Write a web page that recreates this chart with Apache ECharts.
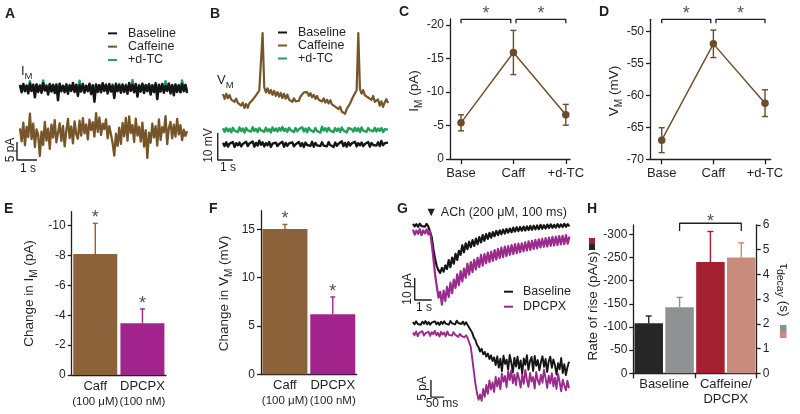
<!DOCTYPE html>
<html><head><meta charset="utf-8">
<script src="https://cdn.jsdelivr.net/npm/echarts@6.0.0/dist/echarts.min.js"></script>
<style>html,body{margin:0;padding:0;background:#fff}#c{width:800px;height:414px}</style>
</head><body><div id="c"></div>
<script>
// ---------------- DATA ----------------
// A: membrane current traces (pA), sampled every A_dt s
const A_dt = 0.0827;
const A_base = [0.8,-1.2,1.1,-0.9,0.6,-1.5,1.2,-0.8,0.9,-2.6,1.0,-1.1,0.7,-1.3,1.3,-0.7,0.5,-1.8,1.1,-1.0,0.9,-1.4,0.8,-3.4,1.2,-0.9,0.6,-1.2,1.0,-1.6,0.7,-0.8,1.4,-1.1,0.9,-2.2,0.8,-1.0,1.1,-1.3,0.6,-0.9,1.2,-1.7,0.7,-3.8,1.0,-1.1,0.8,-1.2,1.3,-0.8,0.9,-1.5,1.1,-1.0,0.6,-2.8,1.2,-0.9,0.8,-1.3,1.0,-1.1,0.7,-1.6,1.4,-0.8,0.9,-1.2,1.1,-2.4,0.6,-1.0,1.2,-1.4,0.8,-0.9,1.0,-1.8,0.7,-1.1,1.3,-3.1,0.9,-1.0,1.1,-1.3,0.6,-0.8,1.2,-1.5,0.8,-2.0,1.0,-1.1,0.7,-1.2,1.1,-0.9,0.8,-1.4];
const A_dtc = [0.9,-0.8,1.0,-0.6,0.7,-1.0,1.9,-0.7,0.8,-1.2,0.9,-0.5,0.6,-0.9,2.1,-0.6,0.8,-1.1,1.0,-0.8,0.7,-0.7,1.1,-1.3,0.9,-0.6,0.6,-0.9,1.0,-1.0,0.8,-0.5,0.9,-0.8,0.7,-1.2,2.0,-0.7,0.9,-0.9,0.6,-0.6,1.0,-1.1,0.8,-0.8,0.9,-0.7,0.7,-1.0,1.2,-0.6,0.9,-0.9,0.6,-0.8,1.0,-1.2,0.8,-0.5,1.1,-0.9,0.7,-0.7,0.9,-1.0,0.8,-0.6,2.2,-0.8,0.6,-1.1,0.9,-0.7,1.0,-0.9,0.7,-0.6,1.1,-1.0,0.8,-0.8,0.9,-1.2,0.6,-0.7,1.0,-0.9,1.9,-0.6,1.2,-1.0,0.7,-0.8,0.9,-0.7,0.8,-1.1,2.1,-0.6,0.9,-0.9];
const A_caff = [-11.2,-14.8,-9.6,-15.9,-10.8,-13.6,-7.1,-14.2,-9.9,-16.4,-11.5,-13.0,
 -18.9,-12.1,-15.8,-9.4,-14.6,-11.3,-16.9,-10.2,-13.8,-8.9,-15.1,-12.4,
 -9.8,-14.7,-10.5,-16.2,-11.9,-8.6,-13.9,-10.7,-15.4,-9.3,-12.8,-14.1,
 -9.1,-13.2,-8.4,-12.6,-10.1,-14.3,-8.8,-11.7,-9.5,-13.5,-7.0,-12.2,
 -8.2,-13.1,-9.9,-11.4,-8.7,-14.0,-10.6,-12.9,-15.3,-18.8,-12.7,-16.1,
 -11.0,-15.5,-9.7,-13.4,-8.3,-14.6,-7.9,-12.5,-10.3,-15.0,-8.5,-13.2,
 -10.8,-14.9,-9.6,-16.3,-11.7,-19.4,-12.4,-15.2,-9.9,-13.7,-10.6,-16.0,
 -8.7,-14.4,-10.9,-12.3,-7.8,-15.6,-11.1,-9.4,-14.0,-10.2,-13.5,-8.6,
 -12.9,-10.3,-14.5,-11.6,-13.3,-12.0];
// B: membrane potential traces (mV), sampled every B_dt s
const B_dt = 0.11;
const B_caff = [-48.3,-50.1,-48.2,-49.9,-48.7,-50.4,
 -49.7,-51.2,-50.0,-51.6,-50.9,-52.6,-51.5,
 -53.5,-52.0,-53.4,-51.7,-52.0,-50.4,
 -50.9,-48.8,-49.1,-47.0,-46.6,
 -25.7,
 -45.8,-47.7,-46.2,-48.1,-46.8,-48.6,
 -47.1,-49.0,-47.6,-49.3,-47.9,-49.8,-48.2,-50.0,-48.5,-50.4,
 -50.1,-51.2,-49.9,-51.0,-50.3,-50.8,-49.2,-49.5,-47.7,-48.3,
 -47.6,-49.0,-48.0,-49.5,-48.6,-50.1,-49.0,-50.4,
 -49.8,-51.1,-49.9,-51.5,-50.4,-51.8,-50.6,-52.1,
 -51.5,-53.0,-52.3,-53.9,-53.0,-54.8,-54.1,-55.6,-53.8,
 -53.9,-51.8,-51.4,-49.1,-48.7,-46.9,
 -25.7,
 -46.5,-48.2,-46.9,-48.8,-48.4,-49.6,-48.9,
 -50.5,-49.0,-51.2,-51.0,-50.3,-52.6,-51.0,-53.1,-51.4,-50.2,-51.7];
const B_dtc = [-61.0,-62.3,-60.9,-62.1,-61.2,-62.5,-60.8,-61.9,-61.3,-62.4,-60.7,-62.0,-61.1,-62.6,-60.9,-61.8,-61.4,-62.2,-60.6,-62.0,-61.2,-62.4,-60.9,-61.7,-61.0,-62.3,-60.8,-62.1,-61.3,-62.5,-60.7,-61.9,-61.1,-62.2,-60.9,-61.8,-60.5,-62.0,-61.2,-62.3,-60.8,-61.6,-61.0,-62.4,-60.9,-62.1,-61.3,-61.9,-60.6,-62.2,-61.1,-62.5,-60.8,-61.7,-61.2,-62.3,-60.9,-62.0,-61.4,-62.6,-60.4,-61.8,-61.0,-62.2,-60.8,-61.9,-61.3,-62.4,-60.9,-62.0,-61.1,-62.3,-60.7,-61.8,-61.2,-62.5,-60.9,-61.6,-61.3,-62.2,-60.8,-62.0,-61.0,-62.4,-60.7,-61.9,-61.2,-62.3,-60.9,-61.7,-61.4,-62.1,-60.8,-62.2,-61.1,-61.9,-60.9,-62.4,-61.3,-62.0,-61.5];
const B_base = [-66.4,-67.6,-66.2,-67.8,-66.7,-67.4,-66.1,-67.9,-66.5,-67.3,-66.3,-67.7,-66.8,-67.5,-66.0,-67.6,-66.6,-67.2,-65.9,-67.8,-66.4,-67.4,-65.6,-67.1,-66.2,-67.7,-66.5,-67.3,-66.1,-67.9,-66.7,-67.4,-66.3,-67.6,-66.8,-67.2,-66.0,-67.8,-66.4,-67.5,-66.6,-67.3,-66.2,-67.7,-66.9,-67.4,-66.1,-67.6,-66.5,-67.9,-66.3,-67.2,-66.7,-67.5,-66.0,-67.8,-66.4,-67.3,-66.6,-67.6,-66.2,-67.4,-66.8,-67.7,-66.1,-67.2,-66.5,-67.9,-66.3,-67.5,-66.7,-67.3,-65.8,-67.6,-66.4,-67.8,-66.2,-67.4,-66.6,-67.2,-66.0,-67.7,-66.5,-67.3,-66.3,-67.6,-66.8,-67.5,-66.1,-67.8,-66.4,-67.2,-66.7,-67.4,-66.2,-67.6,-65.7,-67.3,-66.5,-66.9,-66.3];
// C, D: mean ± SEM
const C_cats = ['Base','Caff','+d-TC'];
const C_vals = [-5.4,-15.9,-6.6];
const C_err = [1.2,3.3,1.55];
const C_ticks = [-20,-15,-10,-5,0];
const D_vals = [-67.0,-51.9,-61.2];
const D_err = [1.95,2.15,2.1];
const D_ticks = [-70,-65,-60,-55,-50];
// E, F
const E_cats = ['Caff','DPCPX'];
const E_conc = ['(100 \u03bcM)','(100 nM)'];
const E_vals = [-8.1,-3.46];
const E_err = [2.05,0.96];
const E_ticks = [-10,-8,-6,-4,-2,0];
const F_vals = [15.03,6.2];
const F_err = [0.47,1.8];
const F_ticks = [0,5,10,15];
// G: ACh-evoked currents (pA); top sampled every G1_dt s, bottom every G2_dt ms
const G1_dt = 0.1;
const G1_base = [0.5,-0.6,0.4,-0.8,0.6,-0.5,0.3,-0.7,0.5,-0.6,0.2,
 -5.5,-11.0,-15.5,-18.8,-20.6,-21.8,
 -19.5,-21.2,-18.4,-20.0,
 -16.0,-19.2,-14.8,-17.6,-13.1,-15.9,-11.7,-13.6,
 -9.2,-12.4,-8.3,-11.0,-7.6,-10.1,-6.9,-9.5,-6.2,-8.7,-5.5,-7.9,
 -4.6,-7.2,-4.1,-6.3,-3.6,-5.8,-3.2,-5.1,-2.7,-4.6,-2.4,
 -4.2,-2.1,-3.9,-1.8,-3.5,-1.6,-3.3,-1.2,-3.0,-1.0,-2.8,-0.9,-2.6,-0.7,-2.5,-0.6,-2.3,-0.4,
 -2.2,-0.3,-2.0,-0.2,-1.9,0.1,-1.7,-0.1,-1.6,0.2,-1.4,0.3,-1.3,0.1,-1.2,0.4,-1.0,0.3,-0.9,0.5,-0.8,0.4,-0.6];
const G1_dpcpx = [-2.1,-4.4,-2.6,-4.0,-1.9,-4.6,-2.4,-3.8,-2.0,-4.3,-2.8,
 -8.5,-15.2,-22.6,-27.9,-33.0,-30.4,-36.2,
 -29.8,-34.5,-28.1,-32.7,-26.2,-31.0,-24.8,-28.6,
 -22.4,-27.3,-21.0,-25.6,-19.8,-23.9,-17.6,-22.5,-16.9,
 -21.4,-15.8,-20.2,-14.9,-19.1,-13.6,-18.5,-13.2,-17.4,-12.5,-16.8,-12.1,
 -16.3,-11.4,-15.7,-10.9,-15.0,-10.3,-14.6,-9.8,-14.1,-9.6,-13.5,-9.1,-13.2,-8.7,-12.8,-8.5,-12.4,
 -8.3,-12.0,-7.9,-11.6,-7.4,-11.3,-7.2,-10.9,-6.8,-10.6,-6.5,-10.2,-6.3,-9.9,-6.0,
 -9.8,-5.7,-9.5,-5.4,-9.3,-5.3,-9.1,-5.0,-8.8,-4.9,-8.7,-4.6,-8.5,-5.2];
const G2_dt = 6;
const G2_base = [0.3,-0.4,0.5,-0.3,0.2,-0.5,0.4,-0.2,0.6,-0.4,0.3,-0.5,0.1,-0.3,0.5,-0.4,0.2,-0.6,0.4,-0.3,0.5,-0.2,0.3,-0.5,0.6,-0.1,0.4,-0.4,0.7,0.0,0.5,-0.3,0.4,-0.5,0.2,-0.6,
 -1.0,-2.1,-2.9,-4.3,-5.0,-6.4,-7.1,
 -8.4,-7.6,-9.2,-8.5,-9.9,-9.0,-10.6,-9.5,-11.2,-10.1,
 -12.4,-9.8,-13.1,-10.5,-14.2,-9.6,-12.0,-10.8,-13.7,-9.4,-11.6,-14.5,-10.2,-12.8,-9.9,-13.4,-11.0,-15.0,-10.4,-12.3,-9.5,-13.8,-11.2,-10.0,-14.1,-9.7,-12.6,-10.9,-13.9,-11.5,-9.8,-12.9,-10.6,-14.4,-11.3,-9.9,-13.2,-10.7,-12.4,-15.2,-11.8,-13.6,-10.3,-14.7,-12.1,-15.3,-13.0,-11.4];
const G2_dpcpx = [-2.8,-3.6,-2.5,-3.9,-2.9,-3.4,-2.4,-3.7,-3.0,-3.5,-2.6,-3.8,-2.7,-3.3,-2.3,-3.6,-2.9,-4.0,-2.6,-3.4,-2.8,-3.9,-2.5,-3.5,-3.0,-3.7,-2.7,-3.4,-2.9,-4.1,-3.2,-3.8,-3.5,-4.2,-3.6,-4.4,-4.8,
 -7.0,-10.5,-14.2,-17.8,-20.6,-22.6,-21.0,
 -22.9,-19.4,-21.7,-18.2,-20.8,-16.9,-19.6,-17.5,-20.3,-15.8,-18.7,-16.2,-19.5,-14.9,-17.3,-15.6,-18.9,-14.2,-16.8,-13.9,-17.7,-15.1,-18.3,-14.6,-16.4,-19.0,-15.3,-17.9,-13.8,-16.6,-18.8,-14.7,-17.2,-15.9,-19.3,-14.4,-16.9,-18.1,-15.2,-17.6,-13.7,-16.3,-19.1,-15.5,-17.8,-14.8,-18.6,-16.1,-19.4,-15.0,-17.4,-20.1,-16.7,-18.4,-19.8,-17.0,-19.2];
// H
const H_groups = ['Baseline','Caffeine/\nDPCPX'];
const H_bars = ['Baseline rise','Baseline tau','Caffeine/DPCPX rise','Caffeine/DPCPX tau'];
const H_rise = [-108,-240];
const H_rise_err = [15.7,66];
const H_tau = [2.67,4.69];
const H_tau_err = [0.40,0.59];
const H_rise_ticks = [-300,-250,-200,-150,-100,-50,0];
const H_tau_ticks = [0,1,2,3,4,5,6];

// ---------------- STYLE ----------------
const FONT = '"Liberation Sans", Arial, Helvetica, sans-serif';
const INK = '#231f20';
const COL = {base:'#151515', caff:'#76552a', dtc:'#22a05a', brown:'#6b4b29', barBrown:'#8b6239',
  magenta:'#a3238c', purple:'#9b2a8d', hBlack:'#262626', hGray:'#8f9293', hRed:'#a2202f', hSalmon:'#c98b7b'};

const toXY = (arr, dt) => arr.map((v, i) => [+(i * dt).toFixed(4), v]);

function hid(grid, min, max) { return {type:'value', gridIndex:grid, min, max, show:false}; }
const LINE = {show:true, onZero:false, lineStyle:{color:INK, width:1.3}};
function yVis(grid, min, max, ticks, inverse, position) {
  return {type:'value', gridIndex:grid, min, max, inverse:!!inverse, position:position || 'left',
    axisLine:LINE, splitLine:{show:false},
    axisTick:{show:true, length:4, lineStyle:{color:INK, width:1.3}, customValues:ticks},
    axisLabel:{show:true, customValues:ticks, color:INK, fontSize:12, fontFamily:FONT, margin:6}};
}
function xValCat(grid, min, max, cats) {
  const idx = cats.map((c, i) => i);
  return {type:'value', gridIndex:grid, min, max, position:'bottom', axisLine:LINE, splitLine:{show:false},
    axisTick:{show:true, length:5, lineStyle:{color:INK, width:1.3}, customValues:idx},
    axisLabel:{show:true, customValues:idx, formatter:v => cats[Math.round(v)], color:INK, fontSize:13, fontFamily:FONT, margin:8}};
}
function xCatConc(grid) {
  return {type:'category', gridIndex:grid, data:E_cats, position:'bottom', axisLine:LINE, axisTick:{show:false},
    axisLabel:{interval:0, color:INK, margin:4, formatter:(v, i) => '{a|' + v + '}\n{b|' + E_conc[i] + '}',
      rich:{a:{fontSize:13, fontFamily:FONT, color:INK, lineHeight:15}, b:{fontSize:11.5, fontFamily:FONT, color:INK, lineHeight:15}}}};
}
function errRender(capW, both) {
  return function (params, api) {
    const x = api.value(0), a = api.value(1), b = api.value(2);
    const p1 = api.coord([x, a]), p2 = api.coord([x, b]);
    const style = {stroke: api.visual('color'), lineWidth: 1.4, fill: null};
    const ch = [
      {type:'line', shape:{x1:p1[0], y1:p1[1], x2:p2[0], y2:p2[1]}, style},
      {type:'line', shape:{x1:p2[0] - capW / 2, y1:p2[1], x2:p2[0] + capW / 2, y2:p2[1]}, style}];
    if (both) ch.push({type:'line', shape:{x1:p1[0] - capW / 2, y1:p1[1], x2:p1[0] + capW / 2, y2:p1[1]}, style});
    return {type:'group', children:ch};
  };
}
function trace(name, xi, data, color, w) {
  return {type:'line', name, xAxisIndex:xi, yAxisIndex:xi, data, showSymbol:false, symbol:'none',
    color, lineStyle:{color, width:w || 1.2, join:'round'}, itemStyle:{color}, silent:true, clip:false};
}
function plain(xi, yi, data, color, w) {
  return {type:'line', xAxisIndex:xi, yAxisIndex:yi, data, showSymbol:false, symbol:'none',
    lineStyle:{color, width:w || 1.3}, silent:true, clip:false};
}
function stars(xi, yi, pts, dy) {
  return {type:'scatter', xAxisIndex:xi, yAxisIndex:yi, data:pts, symbolSize:1, clip:false, silent:true,
    itemStyle:{color:'rgba(0,0,0,0)'},
    label:{show:true, position:'inside', formatter:'*', fontSize:18, fontFamily:FONT, color:INK, offset:[0, dy]}};
}
function scaleBar(xi, x0, y0, dx, dy) {
  return plain(xi, xi, [[x0, y0 + dy], [x0, y0], [x0 + dx, y0]], INK, 1.4);
}
function legend(left, top, names, lh, gap, pad) {
  return {orient:'vertical', left, top, itemWidth:9, itemHeight:2, itemGap:gap, icon:'rect', selectedMode:false, padding:0,
    data:names, textStyle:{fontSize:12.5, fontFamily:FONT, color:INK, lineHeight:lh, padding:[0, 0, 0, pad]}};
}
const T = (x, y, text, o) => Object.assign({type:'text', x, y, silent:true,
  style:Object.assign({text, fill:INK, fontSize:12, fontFamily:FONT, align:'center', verticalAlign:'middle'}, (o && o.style) || {})},
  o && o.rotation ? {rotation:o.rotation} : {});
const letter = (x, y, s) => T(x, y, s, {style:{fontSize:14, fontWeight:'bold', align:'left'}});
const subRich = (main, sub) => ({a:{fontSize:main, fontFamily:FONT, fill:INK, lineHeight:20}, s:{fontSize:sub, fontFamily:FONT, fill:INK, verticalAlign:'bottom', lineHeight:12}});

// ---------------- OPTION ----------------
const option = {
  animation:false,
  textStyle:{fontFamily:FONT},
  grid:[
    {left:10, top:59.2, width:180, height:111.6},      // 0 A
    {left:208, top:17.6, width:187.5, height:148.5},   // 1 B
    {left:450, top:19, width:120, height:140},         // 2 C
    {left:650, top:19.3, width:120.7, height:140},     // 3 D
    {left:71.7, top:211.7, width:94.3, height:163.3},  // 4 E
    {left:261, top:210.7, width:95.7, height:163.6},   // 5 F
    {left:404.5, top:214, width:170, height:110},      // 6 G top
    {left:402.6, top:312.8, width:176.8, height:95.2}, // 7 G bottom
    {left:633.3, top:225, width:123.4, height:148.3}   // 8 H
  ],
  xAxis:[
    hid(0, -0.5, 8.5),
    hid(1, -1, 11.5),
    xValCat(2, -0.21, 2.08, C_cats),
    xValCat(3, -0.227, 2.11, C_cats),
    xCatConc(4),
    xCatConc(5),
    hid(6, -0.5, 9.5),
    hid(7, -40, 640),
    {type:'category', gridIndex:8, data:H_bars, show:false, position:'bottom'},
    {type:'category', gridIndex:8, data:H_groups, position:'bottom', offset:0, axisLine:LINE,
      axisTick:{show:true, length:5, lineStyle:{color:INK, width:1.3}},
      axisLabel:{interval:0, color:INK, fontSize:13, fontFamily:FONT, lineHeight:15, margin:4}},
    Object.assign(hid(8, 0, 4), {position:'bottom'})
  ],
  yAxis:[
    hid(0, -23, 8),
    hid(1, -75, -20),
    yVis(2, -20.9, 0, C_ticks, true),
    yVis(3, -70, -48.05, D_ticks, false),
    yVis(4, -10.93, 0, E_ticks, true),
    yVis(5, 0, 16.92, F_ticks, false),
    hid(6, -45, 5),
    hid(7, -25, 3),
    yVis(8, -320, 0, H_rise_ticks, true, 'left'),
    yVis(8, 0, 6, H_tau_ticks, false, 'right')
  ],
  legend:[
    legend(108, 26.7, ['Baseline','Caffeine','+d-TC'], 13.3, 0, 6),
    legend(278, 26, ['Baseline','Caffeine','+d-TC'], 12.6, 0, 6),
    legend(504, 285.2, ['Baseline','DPCPX'], 13, 2, 5)
  ],
  series:[
    // A
    trace('+d-TC', 0, toXY(A_dtc, A_dt), COL.dtc, 2.5),
    trace('Baseline', 0, toXY(A_base, A_dt), COL.base, 2.5),
    trace('Caffeine', 0, toXY(A_caff, A_dt), COL.caff, 2.3),
    scaleBar(0, -0.15, -20, 1, 5),
    // B
    trace('Caffeine', 1, toXY(B_caff, B_dt), COL.caff, 2.2),
    trace('+d-TC', 1, toXY(B_dtc, B_dt), COL.dtc, 2.4),
    trace('Baseline', 1, toXY(B_base, B_dt), COL.base, 2.4),
    scaleBar(1, -0.35, -72.74, 1, 10),
    // C
    {type:'custom', xAxisIndex:2, yAxisIndex:2, renderItem:errRender(6, true), itemStyle:{color:COL.brown},
      data:C_vals.map((v, i) => [i, v - C_err[i], v + C_err[i]]), silent:true},
    {type:'line', xAxisIndex:2, yAxisIndex:2, data:C_vals.map((v, i) => [i, v]), symbol:'circle', symbolSize:7.5,
      lineStyle:{color:COL.brown, width:1.4}, itemStyle:{color:COL.brown}, silent:true},
    plain(2, 2, [[0, -20.25], [0, -20.85], [0.95, -20.85], [0.95, -20.25]], INK, 1.3),
    plain(2, 2, [[1.05, -20.25], [1.05, -20.85], [2, -20.85], [2, -20.25]], INK, 1.3),
    stars(2, 2, [[0.475, -22.2], [1.525, -22.2]], 4),
    // D
    {type:'custom', xAxisIndex:3, yAxisIndex:3, renderItem:errRender(6, true), itemStyle:{color:COL.brown},
      data:D_vals.map((v, i) => [i, v - D_err[i], v + D_err[i]]), silent:true},
    {type:'line', xAxisIndex:3, yAxisIndex:3, data:D_vals.map((v, i) => [i, v]), symbol:'circle', symbolSize:7.5,
      lineStyle:{color:COL.brown, width:1.4}, itemStyle:{color:COL.brown}, silent:true},
    plain(3, 3, [[0, -48.65], [0, -48.05], [0.95, -48.05], [0.95, -48.65]], INK, 1.3),
    plain(3, 3, [[1.05, -48.65], [1.05, -48.05], [2, -48.05], [2, -48.65]], INK, 1.3),
    stars(3, 3, [[0.475, -46.6], [1.525, -46.6]], 4),
    // E
    {type:'bar', name:'E bars', xAxisIndex:4, yAxisIndex:4, barWidth:44, silent:true,
      data:E_vals.map((v, i) => ({value:v, itemStyle:{color:[COL.barBrown, COL.magenta][i]}}))},
    {type:'custom', xAxisIndex:4, yAxisIndex:4, renderItem:errRender(5, false), silent:true,
      data:E_vals.map((v, i) => ({value:[i, v, v - E_err[i]], itemStyle:{color:[COL.barBrown, COL.magenta][i]}}))},
    stars(4, 4, E_vals.map((v, i) => [i, v - E_err[i]]), -5),
    // F
    {type:'bar', name:'F bars', xAxisIndex:5, yAxisIndex:5, barWidth:45, silent:true,
      data:F_vals.map((v, i) => ({value:v, itemStyle:{color:[COL.barBrown, COL.magenta][i]}}))},
    {type:'custom', xAxisIndex:5, yAxisIndex:5, renderItem:errRender(5, false), silent:true,
      data:F_vals.map((v, i) => ({value:[i, v, v + F_err[i]], itemStyle:{color:[COL.barBrown, COL.magenta][i]}}))},
    stars(5, 5, F_vals.map((v, i) => [i, v + F_err[i]]), -5),
    // G
    trace('Baseline', 6, toXY(G1_base, G1_dt), COL.base, 2.2),
    trace('DPCPX', 6, toXY(G1_dpcpx, G1_dt), COL.purple, 2.2),
    scaleBar(6, 0.1, -34.1, 1, 10),
    trace('Baseline', 7, toXY(G2_base, G2_dt), COL.base, 1.9),
    trace('DPCPX', 7, toXY(G2_dpcpx, G2_dt), COL.purple, 1.9),
    scaleBar(7, 69, -21.8, 50, 5),
    // H
    {type:'bar', name:'H rise', xAxisIndex:8, yAxisIndex:8, barWidth:28.5, barGap:'-100%', silent:true,
      data:[{value:H_rise[0], itemStyle:{color:COL.hBlack}}, '-', {value:H_rise[1], itemStyle:{color:COL.hRed}}, '-']},
    {type:'bar', name:'H tau', xAxisIndex:8, yAxisIndex:9, barWidth:28.5, barGap:'-100%', silent:true,
      data:['-', {value:H_tau[0], itemStyle:{color:COL.hGray}}, '-', {value:H_tau[1], itemStyle:{color:COL.hSalmon}}]},
    {type:'custom', xAxisIndex:8, yAxisIndex:8, renderItem:errRender(6, false), silent:true,
      data:H_rise.map((v, i) => ({value:[2 * i, v, v - H_rise_err[i]], itemStyle:{color:[COL.hBlack, COL.hRed][i]}}))},
    {type:'custom', xAxisIndex:8, yAxisIndex:9, renderItem:errRender(6, false), silent:true,
      data:H_tau.map((v, i) => ({value:[2 * i + 1, v, v + H_tau_err[i]], itemStyle:{color:[COL.hGray, COL.hSalmon][i]}}))},
    plain(10, 9, [[1.5, 5.76], [1.5, 6.07], [3.5, 6.07], [3.5, 5.76]], INK, 1.3),
    stars(10, 9, [[2.5, 6.3]], 4)
  ],
  graphic:[
    letter(5, 14, 'A'), letter(210, 14, 'B'), letter(399, 12, 'C'), letter(599, 12, 'D'),
    letter(4, 209.5, 'E'), letter(209, 209.5, 'F'), letter(397, 209.5, 'G'), letter(587, 209.5, 'H'),
    T(21, 71, '{a|I}{s|M}', {style:{align:'left', rich:subRich(13, 9.5)}}),
    T(217, 80, '{a|V}{s|M}', {style:{align:'left', rich:subRich(13, 9.5)}}),
    T(10.5, 150, '5 pA', {rotation:Math.PI / 2}),
    T(28, 169, '1 s'),
    T(209, 145.5, '10 mV', {rotation:Math.PI / 2}),
    T(228, 168, '1 s'),
    T(414, 91, '{a|I}{s|M}{a| (pA)}', {rotation:Math.PI / 2, style:{rich:subRich(13.5, 10)}}),
    T(614, 91, '{a|V}{s|M}{a| (mV)}', {rotation:Math.PI / 2, style:{rich:subRich(13.5, 10)}}),
    T(29.5, 293.5, '{a|Change in I}{s|M}{a| (pA)}', {rotation:Math.PI / 2, style:{rich:subRich(13.5, 10)}}),
    T(224, 293.5, '{a|Change in V}{s|M}{a| (mV)}', {rotation:Math.PI / 2, style:{rich:subRich(13.5, 10)}}),
    T(425, 212.5, '\u25bc ACh (200 \u03bcM, 100 ms)', {style:{align:'left', fontSize:12.5}}),
    T(408, 289, '10 pA', {rotation:Math.PI / 2}),
    T(424, 308, '1 s'),
    T(423, 388.5, '5 pA', {rotation:Math.PI / 2}),
    T(442, 403.5, '50 ms'),
    T(593, 306, 'Rate of rise (pA/s)', {rotation:Math.PI / 2, style:{fontSize:13.5}}),
    T(784, 290, '{a|\u03c4}{s|decay}{a| (s)}', {rotation:-Math.PI / 2, style:{rich:subRich(13.5, 10.5)}}),
    {type:'rect', shape:{x:589, y:238, width:6, height:6}, style:{fill:COL.hRed}, silent:true},
    {type:'rect', shape:{x:589, y:244, width:6, height:6}, style:{fill:COL.hBlack}, silent:true},
    {type:'rect', shape:{x:780, y:325, width:6.5, height:7}, style:{fill:COL.hGray}, silent:true},
    {type:'rect', shape:{x:780, y:332, width:6.5, height:6}, style:{fill:COL.hSalmon}, silent:true}
  ]
};
const chart = echarts.init(document.getElementById('c'), null, {renderer:'canvas'});
chart.setOption(option);
</script></body></html>
